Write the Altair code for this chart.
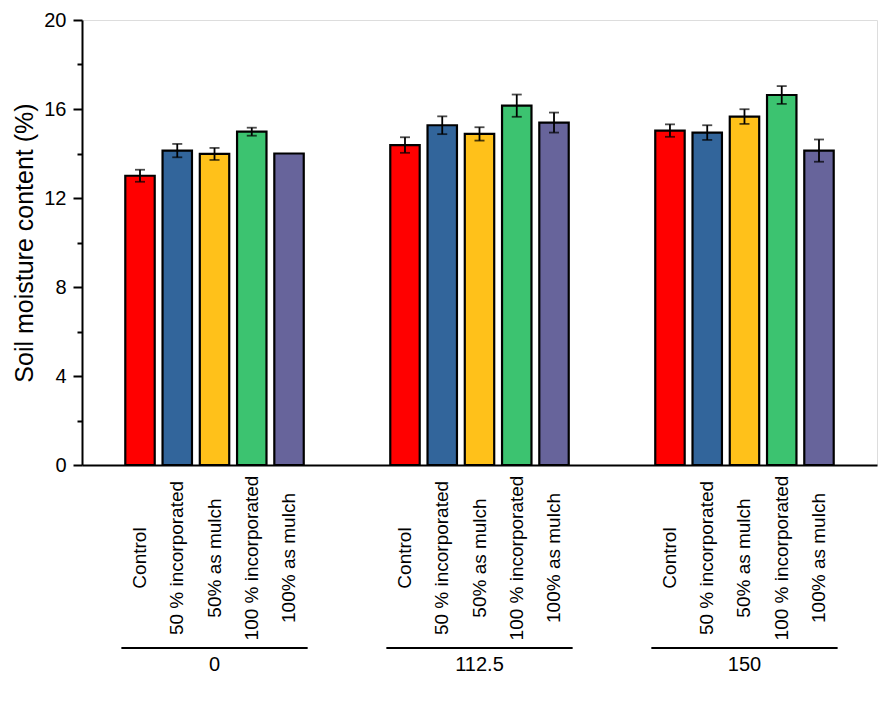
import altair as alt
import pandas as pd

groups = ["0", "112.5", "150"]
treatments = ["Control", "50 % incorporated", "50% as mulch", "100 % incorporated", "100% as mulch"]
colors = ["#FF0000", "#32659B", "#FFC11A", "#3CC370", "#67649B"]

means_0 = [13.0, 14.13, 13.98, 14.98, 14.0]
err_0 = [0.27, 0.30, 0.27, 0.18, 0.0]
means_112 = [14.38, 15.27, 14.88, 16.15, 15.39]
err_112 = [0.35, 0.40, 0.30, 0.50, 0.45]
means_150 = [15.03, 14.94, 15.66, 16.63, 14.13]
err_150 = [0.28, 0.33, 0.33, 0.40, 0.50]

major_ticks = [0, 4, 8, 12, 16, 20]
minor_ticks = [2, 6, 10, 14, 18]

rows = []
for g, m, e in zip(groups, [means_0, means_112, means_150], [err_0, err_112, err_150]):
    for t, v, s in zip(treatments, m, e):
        rows.append({"group": g, "treatment": t, "value": v, "err": s, "lo": v - s, "hi": v + s})
df = pd.DataFrame(rows)
gdf = pd.DataFrame({"group": groups})

FONT = "Liberation Sans"

xenc = alt.X("group:N", sort=groups, scale=alt.Scale(paddingInner=0.297, paddingOuter=0.1486),
             axis=alt.Axis(labels=False, ticks=False, title=None, domain=True,
                           domainColor="black", domainWidth=2))
xoff = alt.XOffset("treatment:N", sort=treatments,
                   scale=alt.Scale(paddingInner=0.21, paddingOuter=0.105))
yscale = alt.Scale(domain=[0, 20], nice=False, zero=True)

bars = alt.Chart(df).mark_bar(stroke="black", strokeWidth=2.2).encode(
    x=xenc,
    xOffset=xoff,
    y=alt.Y("value:Q", scale=yscale,
            axis=alt.Axis(values=major_ticks, title="Soil moisture content (%)",
                          titleFont=FONT, titleFontSize=25, titleFontWeight="normal",
                          titleColor="black", titlePadding=6,
                          labelFont=FONT, labelFontSize=20, labelColor="black",
                          labelPadding=7, tickSize=9, tickWidth=2, tickColor="black",
                          domainColor="black", domainWidth=2, grid=False)),
    color=alt.Color("treatment:N", sort=treatments,
                    scale=alt.Scale(domain=treatments, range=colors), legend=None),
)

errdata = alt.Chart(df).transform_filter("datum.err > 0")

err_rule = errdata.mark_rule(color="black", strokeWidth=1.8).encode(
    x=xenc,
    xOffset=xoff,
    y=alt.Y("lo:Q", scale=yscale,
            axis=alt.Axis(values=minor_ticks, labels=False, title=None, domain=False,
                          tickSize=5, tickWidth=2, tickColor="black", grid=False,
                          orient="left")),
    y2="hi:Q",
)

cap_lo = errdata.mark_tick(color="black", thickness=1.8, size=10).encode(
    x=xenc, xOffset=xoff, y=alt.Y("lo:Q", scale=yscale, axis=None))
cap_hi = errdata.mark_tick(color="black", thickness=1.8, size=10).encode(
    x=xenc, xOffset=xoff, y=alt.Y("hi:Q", scale=yscale, axis=None))

tlabels = alt.Chart(df).mark_text(angle=270, align="center", baseline="middle",
                                  font=FONT, fontSize=19, color="black").encode(
    x=xenc, xOffset=xoff, y=alt.value(538), text="treatment:N")

gline = alt.Chart(gdf).mark_bar(color="black").encode(
    x=xenc, y=alt.value(627), y2=alt.value(629))

glabels = alt.Chart(gdf).mark_text(align="center", baseline="middle",
                                   font=FONT, fontSize=20, color="black").encode(
    x=xenc, y=alt.value(645), text="group:N")

chart = alt.layer(bars, err_rule, cap_lo, cap_hi, tlabels, gline, glabels).resolve_axis(
    y="independent"
).properties(
    width=795, height=445,
    autosize=alt.AutoSizeParams(type="none"),
    padding={"left": 74, "top": 12, "right": 1, "bottom": 230},
).configure_view(stroke=None).configure(background="white")

chart.save("out.html", embed_options={"renderer": "svg", "actions": False})
